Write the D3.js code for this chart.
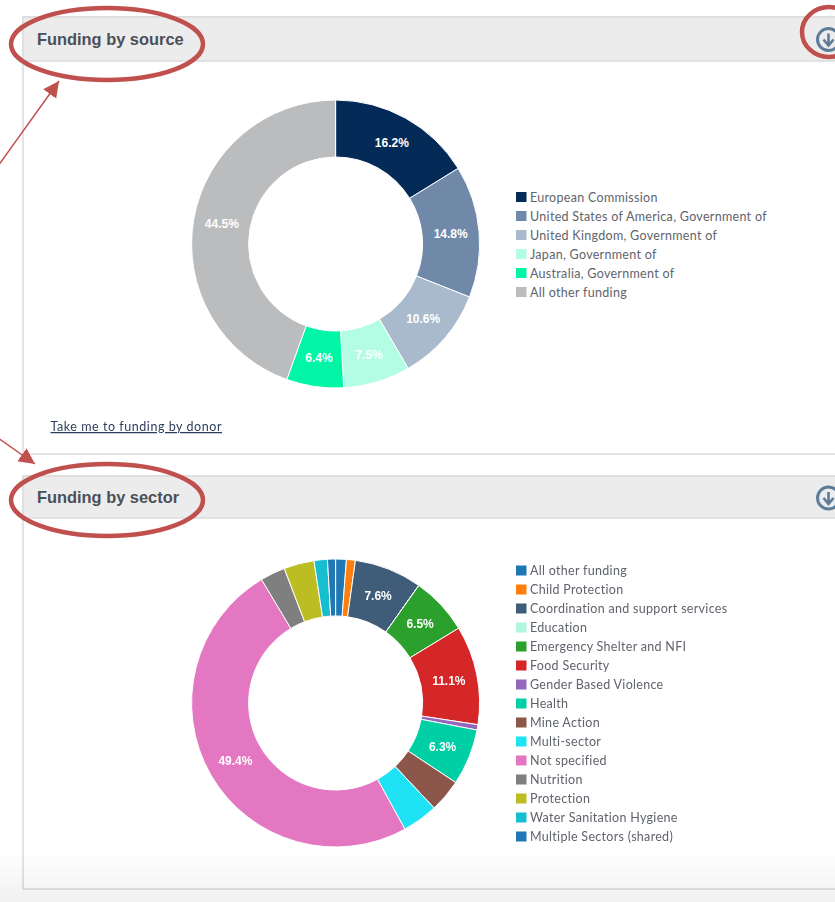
<!DOCTYPE html>
<html><head><meta charset="utf-8">
<script src="https://cdn.jsdelivr.net/npm/d3@7/dist/d3.min.js"></script>
<style>html,body{margin:0;padding:0;background:#fff;overflow:hidden}svg{display:block;filter:blur(0.45px)}</style>
</head><body><svg id="c" width="835" height="902"></svg>
<script>
const sourceCategories=["European Commission","United States of America, Government of","United Kingdom, Government of","Japan, Government of","Australia, Government of","All other funding"];
const sourceValues=[16.2,14.8,10.6,7.5,6.4,44.5];
const sourceColors=["#042a58","#7089a9","#a9bacd","#b2fde3","#00f6a6","#bbbcbe"];
const sectorCategories=["All other funding","Child Protection","Coordination and support services","Education","Emergency Shelter and NFI","Food Security","Gender Based Violence","Health","Mine Action","Multi-sector","Not specified","Nutrition","Protection","Water Sanitation Hygiene","Multiple Sectors (shared)"];
const sectorValues=[1.2,1.0,7.6,0.01,6.5,11.1,0.6,6.3,3.7,4.0,49.4,2.8,3.4,1.5,0.9];
const sectorColors=["#1f77b4","#ff7f0e","#3f5d78","#aff5e0","#2ca02c","#d62728","#9467bd","#00cfa5","#8c564b","#1fe3f5","#e377c2","#7f7f7f","#bcbd22","#17becf","#1f77b4"];
const labelThreshold=5;
const svg=d3.select("#c");
const defs=svg.append("defs");
const grad=defs.append("linearGradient").attr("id","fade").attr("x1",0).attr("x2",0).attr("y1",0).attr("y2",1);
grad.append("stop").attr("offset",0).attr("stop-color","#000").attr("stop-opacity",0);
grad.append("stop").attr("offset",1).attr("stop-color","#000").attr("stop-opacity",0.055);
defs.append("marker").attr("id","head").attr("markerUnits","userSpaceOnUse").attr("markerWidth",20).attr("markerHeight",20).attr("refX",16).attr("refY",8).attr("orient","auto")
 .append("path").attr("d","M0,0L16,8L0,16Z").attr("fill","#c0504d");
const root=svg.append("g");
const LINE="#dcdcdc";
function panel(top,headBottom,bottom,title,titleX,iconY){
 root.append("rect").attr("x",23).attr("y",top).attr("width",830).attr("height",bottom-top).attr("fill","#fff").attr("stroke",LINE).attr("stroke-width",1.5);
 root.append("rect").attr("x",23).attr("y",top).attr("width",830).attr("height",headBottom-top).attr("fill","#ececec").attr("stroke",LINE).attr("stroke-width",1.5);
 root.append("text").attr("x",titleX).attr("y",(top+headBottom)/2+6).text(title)
  .attr("font-family","'Liberation Sans',Arial,sans-serif").attr("font-weight",700).attr("font-size",16.4).attr("fill","#4b5058");
 const ic=root.append("g").attr("transform",`translate(828.5,${iconY})`);
 ic.append("circle").attr("r",11).attr("fill","none").attr("stroke","#5d7c98").attr("stroke-width",3);
 ic.append("path").attr("d","M0,-6V5M-5,0L0,6L5,0").attr("fill","none").attr("stroke","#5d7c98").attr("stroke-width",2.6);
}
panel(17,61,454,"Funding by source",37,39.5);
panel(476,518,889,"Funding by sector",37,498);
const R=144,r=87;
const arc=d3.arc().innerRadius(r).outerRadius(R);
const pie=d3.pie().sort(null).value(d=>d);
function donut(cy,values,colors,cats,legX,legY,legStep){
 const g=root.append("g").attr("transform",`translate(335.6,${cy})`);
 const arcs=pie(values);
 g.selectAll("path").data(arcs).join("path").attr("d",arc).attr("fill",(d,i)=>colors[i]).attr("stroke","#fff").attr("stroke-width",1);
 g.selectAll("text").data(arcs.filter(d=>d.value>=labelThreshold)).join("text")
  .attr("transform",d=>`translate(${arc.centroid(d)})`).attr("text-anchor","middle").attr("dy","0.35em")
  .attr("font-family","'Liberation Sans',Arial,sans-serif").attr("font-weight",700).attr("font-size",12).attr("fill","#fff")
  .text(d=>d.value.toFixed(1)+"%");
 const y=d3.scalePoint().domain(cats).range([legY,legY+legStep*(cats.length-1)]);
 const lg=root.append("g").selectAll("g").data(cats).join("g").attr("transform",d=>`translate(${legX},${y(d)})`);
 lg.append("rect").attr("x",0).attr("y",-5).attr("width",10.5).attr("height",10).attr("fill",(d,i)=>colors[i]);
 lg.append("text").attr("x",14).attr("dy","0.38em").text(d=>d).attr("letter-spacing",0.3)
  .attr("font-family","Lato,'Open Sans',sans-serif").attr("font-size",12.5).attr("fill","#5f636b");
}
donut(244,sourceValues,sourceColors,sourceCategories,516,197,19);
donut(703,sectorValues,sectorColors,sectorCategories,516,570.5,19);
root.append("text").attr("x",50.5).attr("y",431).text("Take me to funding by donor").attr("letter-spacing",0.55)
 .attr("font-family","Lato,'Open Sans',sans-serif").attr("font-size",12.5).attr("fill","#2b3f5e").attr("text-decoration","underline");
svg.append("rect").attr("x",0).attr("y",850).attr("width",835).attr("height",52).attr("fill","url(#fade)");
const ann=svg.append("g").attr("fill","none").attr("stroke","#c0504d");
ann.append("ellipse").attr("cx",107).attr("cy",44).attr("rx",96).attr("ry",36).attr("stroke-width",4.5);
ann.append("ellipse").attr("cx",107).attr("cy",500).attr("rx",96).attr("ry",36).attr("stroke-width",4.5);
ann.append("ellipse").attr("cx",829).attr("cy",32).attr("rx",27).attr("ry",25).attr("stroke-width",4.5);
ann.append("line").attr("x1",-2).attr("y1",166).attr("x2",59).attr("y2",81).attr("stroke-width",1.5).attr("marker-end","url(#head)");
ann.append("line").attr("x1",-2).attr("y1",438).attr("x2",35).attr("y2",464).attr("stroke-width",1.5).attr("marker-end","url(#head)");
</script></body></html>
